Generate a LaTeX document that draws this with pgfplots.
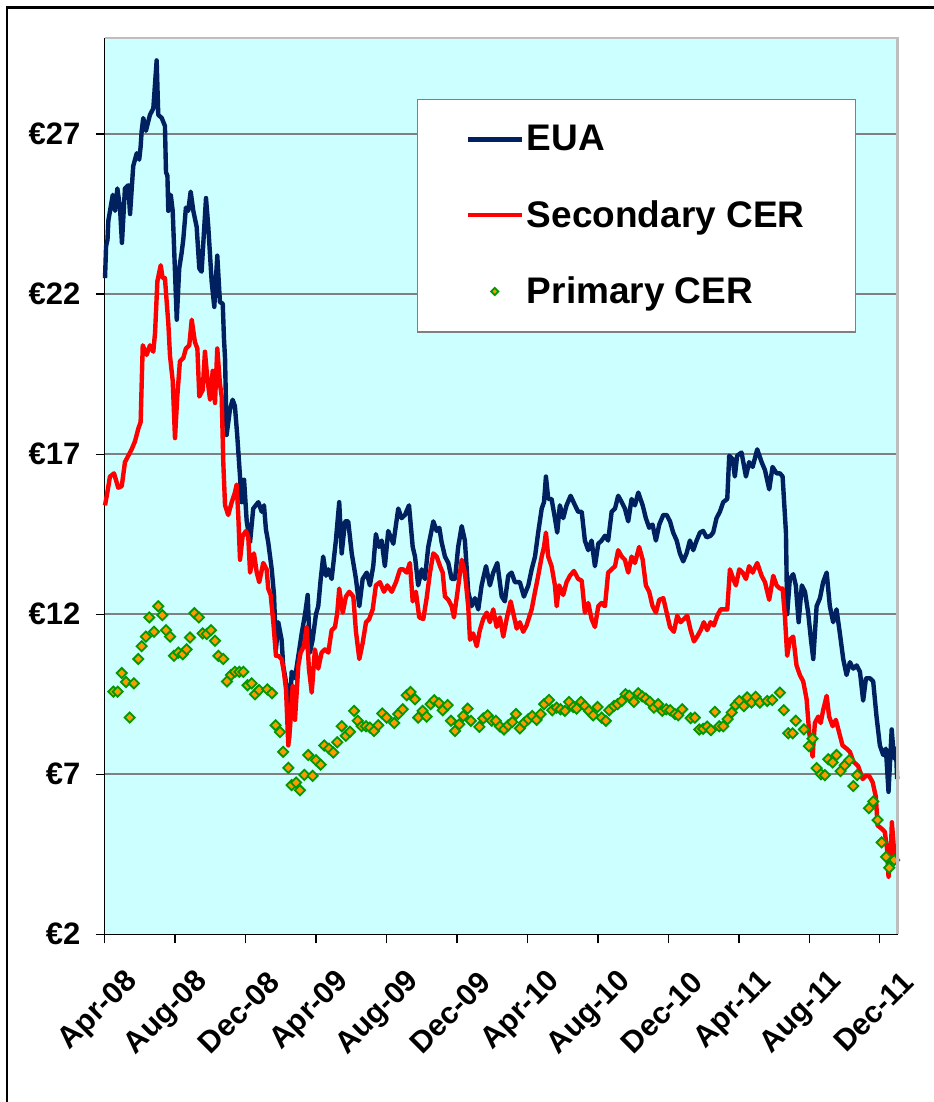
\documentclass[border=0pt]{standalone}
\usepackage{fontspec}
\setmainfont{Liberation Sans}
\usepackage{pgfplots}
\pgfplotsset{compat=1.18}
\definecolor{euablue}{RGB}{0,32,96}
\definecolor{bgcyan}{RGB}{204,255,255}
\definecolor{gridgray}{RGB}{128,128,128}
\definecolor{mkorange}{RGB}{255,153,0}
\definecolor{mkgreen}{RGB}{0,153,0}
\definecolor{bordergray}{RGB}{190,190,190}
\pgfplotsset{
  lineleg/.style={legend image code/.code={\draw[##1] (0pt,0pt) -- (27pt,0pt);}},
  markleg/.style={legend image code/.code={\draw[mark repeat=2,mark phase=2,##1,mark size=1.3pt] plot coordinates {(0pt,0pt) (13.5pt,0pt) (27pt,0pt)};}},
}
\newcommand{\xl}[1]{\fontsize{15.2}{18}\selectfont\bfseries #1}
\begin{document}
\begin{tikzpicture}
\useasboundingbox (-52.25pt,-83.85pt) rectangle (414.25pt,467.15pt);
\draw[black, line width=1.4pt] (-48.75pt,-100pt) -- (-48.75pt,463.5pt) -- (430pt,463.5pt);
\begin{axis}[
  name=ax,
  at={(0pt,0pt)}, anchor=south west,
  scale only axis, width=396.5pt, height=448.15pt,
  xmin=0, xmax=45, ymin=2, ymax=30,
  clip=false,
  axis lines*=left,
  axis line style={-, black, line width=0.8pt},
  axis background/.style={fill=bgcyan},
  xtick={0,4,...,44},
  xticklabels={\xl{Apr-08},\xl{Aug-08},\xl{Dec-08},\xl{Apr-09},\xl{Aug-09},\xl{Dec-09},\xl{Apr-10},\xl{Aug-10},\xl{Dec-10},\xl{Apr-11},\xl{Aug-11},\xl{Dec-11}},
  ytick={2,7,12,17,22,27},
  yticklabels={€2,€7,€12,€17,€22,€27},
  minor tick num=0,
  tick align=outside, major tick length=4.5pt,
  tick style={black, line width=0.6pt},
  ymajorgrids, grid style={gridgray, line width=0.8pt},
  xticklabel style={rotate=45, anchor=east, yshift=-22pt, xshift=1.5pt},
  yticklabel style={font=\fontsize{15.5}{18}\selectfont\bfseries, xshift=-4pt},
  legend style={
    at={(0.394,0.932)}, anchor=north west,
    draw=gray, fill=white, line width=0.6pt,
    font=\fontsize{18.5}{22}\selectfont\bfseries,
    inner xsep=24pt, inner ysep=11.3pt,
    row sep=20.3pt,
    nodes={inner sep=1.5pt},
  },
  legend cell align=left,
]
\addplot[euablue, line width=2.2pt, line join=round, mark=none, lineleg] table {
0.03 22.5
0.09 23.5
0.17 23.7
0.22 24.3
0.47 25.1
0.60 24.6
0.73 25.3
0.88 24.7
0.99 23.6
1.16 25.3
1.35 25.4
1.45 24.5
1.63 26.0
1.83 26.4
1.97 26.2
2.05 26.6
2.11 27.1
2.20 27.5
2.35 27.1
2.58 27.6
2.77 27.8
2.96 29.3
3.05 27.6
3.25 27.5
3.43 27.25
3.49 25.8
3.57 25.7
3.62 24.6
3.76 25.1
3.87 24.6
4.00 22.7
4.10 21.2
4.24 22.8
4.38 23.3
4.47 23.7
4.62 24.7
4.75 24.6
4.89 25.2
5.04 24.6
5.23 24.1
5.38 22.8
5.51 22.7
5.76 25.0
5.89 24.1
6.08 22.4
6.23 21.6
6.40 23.2
6.55 21.75
6.71 21.7
6.78 20.6
6.84 20.0
6.93 17.6
7.12 18.4
7.27 18.7
7.40 18.5
7.53 17.6
7.69 16.3
7.78 15.5
7.92 16.2
8.07 14.9
8.26 14.25
8.44 15.3
8.73 15.5
8.92 15.2
9.05 15.4
9.16 14.65
9.29 14.25
9.49 13.4
9.62 12.6
9.73 10.9
9.86 11.75
10.05 11.2
10.14 10.4
10.34 9.75
10.47 8.1
10.62 10.2
10.81 10.0
11.00 10.7
11.19 11.4
11.38 12.0
11.53 12.6
11.66 10.8
11.81 11.2
12.00 12.0
12.13 12.25
12.27 13.1
12.41 13.8
12.57 13.2
12.70 13.4
12.89 13.1
13.13 14.3
13.32 15.5
13.46 13.9
13.65 14.9
13.83 14.9
14.03 13.9
14.27 13.1
14.46 12.25
14.65 13.1
14.88 13.3
15.06 12.9
15.25 13.5
15.40 14.5
15.57 14.1
15.73 14.3
15.91 13.5
16.10 14.6
16.39 14.2
16.67 15.3
16.86 15.0
17.05 15.1
17.28 15.4
17.49 14.1
17.62 13.8
17.80 12.9
18.00 13.4
18.18 13.1
18.37 14.1
18.66 14.9
18.85 14.6
19.00 14.7
19.13 14.25
19.32 13.8
19.51 13.6
19.70 13.1
19.89 13.1
20.07 14.1
20.27 14.75
20.45 14.3
20.64 12.7
20.83 12.25
21.02 12.5
21.21 12.15
21.40 12.9
21.65 13.5
21.87 12.9
22.06 13.3
22.29 13.6
22.54 12.55
22.72 12.4
22.91 13.2
23.10 13.3
23.29 13.0
23.57 13.0
23.80 12.55
24.05 12.9
24.24 13.4
24.43 13.8
24.61 14.55
24.81 15.3
24.94 15.5
25.05 16.3
25.18 15.6
25.37 15.6
25.56 15.0
25.69 14.55
25.84 15.4
26.03 15.0
26.22 15.4
26.45 15.7
26.70 15.4
26.88 15.2
27.08 15.2
27.26 14.3
27.45 14.0
27.64 14.3
27.83 13.5
28.02 14.2
28.21 14.3
28.40 14.45
28.58 14.3
28.78 15.2
28.97 15.3
29.15 15.7
29.35 15.5
29.53 15.3
29.72 14.9
29.91 15.6
30.10 15.4
30.29 15.8
30.54 15.4
30.72 15.0
30.91 14.7
31.10 14.8
31.29 14.3
31.48 14.8
31.71 15.1
31.90 15.1
32.09 14.9
32.27 14.55
32.47 14.3
32.65 13.9
32.84 13.65
33.03 13.9
33.22 14.3
33.41 14.0
33.60 14.3
33.79 14.55
33.97 14.6
34.17 14.4
34.39 14.45
34.54 14.55
34.73 15.0
34.92 15.2
35.11 15.5
35.34 15.6
35.45 16.95
35.64 16.85
35.77 16.3
35.90 16.95
36.15 17.05
36.40 16.3
36.58 16.75
36.78 16.6
37.04 17.15
37.29 16.75
37.48 16.5
37.72 15.9
37.91 16.6
38.14 16.4
38.33 16.4
38.48 16.3
38.67 14.55
38.74 12.0
38.89 13.1
39.08 13.25
39.23 12.9
39.39 11.75
39.57 12.9
39.75 12.7
39.93 12.05
40.09 11.2
40.22 10.6
40.41 12.25
40.60 12.5
40.78 13.0
40.98 13.3
41.16 12.25
41.35 11.75
41.54 12.15
41.73 11.4
41.92 10.6
42.11 10.1
42.30 10.5
42.49 10.3
42.68 10.4
42.87 10.2
43.05 9.3
43.21 10.0
43.43 10.0
43.62 9.9
43.81 8.8
44.00 7.9
44.19 7.6
44.34 7.8
44.49 6.45
44.67 8.4
44.80 7.5
44.91 7.8
44.98 6.85
};
\addlegendentry{EUA}
\addplot[red, line width=2.2pt, line join=round, mark=none, lineleg] table {
0.03 15.4
0.16 15.8
0.31 16.3
0.54 16.4
0.78 15.95
0.98 16.0
1.16 16.75
1.35 16.95
1.54 17.15
1.73 17.4
1.92 17.8
2.05 18.0
2.17 20.4
2.39 20.1
2.58 20.4
2.77 20.2
2.87 20.8
3.00 22.4
3.19 22.9
3.30 22.5
3.43 22.5
3.53 21.75
3.62 21.1
3.72 20.05
3.87 19.3
4.00 17.5
4.13 18.8
4.28 19.9
4.47 20.0
4.62 20.3
4.81 20.4
4.95 21.2
5.13 20.5
5.27 20.3
5.38 18.8
5.57 19.0
5.70 20.2
5.83 19.4
5.99 18.7
6.14 19.6
6.27 18.6
6.40 20.3
6.55 19.2
6.65 18.8
6.74 16.75
6.84 15.4
7.02 15.1
7.22 15.5
7.40 15.8
7.50 16.05
7.59 15.1
7.69 13.7
7.84 14.45
8.03 14.6
8.16 14.4
8.26 13.3
8.48 13.9
8.64 13.3
8.78 13.0
9.01 13.6
9.20 13.4
9.29 12.8
9.43 12.6
9.58 11.75
9.73 10.7
9.86 10.7
10.05 10.6
10.18 10.2
10.30 9.65
10.43 7.9
10.52 8.4
10.68 9.75
10.81 8.7
11.00 10.4
11.13 10.8
11.32 11.0
11.47 11.6
11.60 10.3
11.76 9.55
11.94 10.9
12.13 10.3
12.32 10.8
12.51 10.9
12.70 10.8
12.89 11.5
13.08 11.6
13.21 12.05
13.32 12.8
13.52 12.05
13.70 12.55
13.89 12.7
14.12 12.55
14.27 11.45
14.46 10.6
14.65 11.1
14.84 11.75
15.02 11.85
15.22 12.15
15.40 12.9
15.63 13.0
15.86 12.7
16.05 12.9
16.30 12.7
16.54 13.0
16.77 13.4
16.95 13.4
17.15 13.3
17.33 13.6
17.49 12.4
17.67 12.7
17.86 11.9
18.09 11.85
18.28 12.5
18.47 13.3
18.66 13.9
18.85 13.8
19.04 13.5
19.19 13.3
19.32 12.55
19.51 12.45
19.70 12.25
19.83 11.9
20.02 12.65
20.27 13.7
20.45 13.3
20.64 12.25
20.74 11.2
20.92 11.4
21.12 11.0
21.30 11.5
21.49 11.85
21.69 12.05
21.87 11.75
22.06 12.15
22.25 11.6
22.44 11.9
22.63 11.3
22.82 11.85
23.05 12.4
23.23 11.95
23.39 11.55
23.57 11.75
23.76 11.45
23.95 11.65
24.24 12.15
24.43 12.7
24.61 13.2
24.81 13.8
24.94 14.1
25.05 14.55
25.18 13.8
25.37 13.5
25.56 12.9
25.66 12.25
25.80 12.9
26.03 12.6
26.22 13.0
26.41 13.2
26.64 13.35
26.88 13.1
27.08 13.05
27.26 12.05
27.45 12.35
27.64 11.85
27.83 11.6
28.02 12.25
28.21 12.35
28.40 12.25
28.58 13.3
28.78 13.4
28.97 13.5
29.15 14.0
29.35 13.8
29.53 13.7
29.72 13.3
29.91 13.8
30.10 13.6
30.34 14.1
30.54 13.7
30.72 12.9
30.91 12.7
31.10 12.25
31.29 12.05
31.48 12.45
31.71 12.5
31.90 12.05
32.09 11.6
32.31 11.45
32.50 11.95
32.69 11.75
32.88 11.85
33.07 11.95
33.26 11.5
33.45 11.15
33.63 11.3
33.83 11.5
34.01 11.75
34.20 11.5
34.39 11.75
34.58 11.65
34.77 11.95
34.96 12.15
35.21 12.15
35.34 12.15
35.49 13.4
35.68 13.1
35.83 12.9
36.02 13.4
36.21 13.3
36.40 13.1
36.58 13.5
36.78 13.3
37.04 13.6
37.29 13.2
37.48 13.0
37.72 12.45
37.95 13.2
38.14 12.9
38.33 12.8
38.48 12.8
38.61 11.95
38.74 10.7
38.89 11.2
39.08 11.3
39.27 10.4
39.46 10.1
39.65 9.9
39.84 9.35
39.99 8.3
40.18 7.55
40.31 8.6
40.50 8.8
40.64 8.6
40.78 9.0
40.98 9.45
41.12 8.8
41.32 8.5
41.50 8.7
41.69 8.3
41.88 7.9
42.11 7.8
42.30 7.7
42.49 7.4
42.77 7.25
43.02 6.85
43.21 6.95
43.39 6.95
43.59 6.75
43.77 6.3
43.87 5.4
44.10 5.3
44.28 5.2
44.41 4.65
44.49 3.8
44.61 4.4
44.68 5.5
44.80 4.65
44.91 4.25
44.98 4.4
};
\addlegendentry{Secondary CER}
\addplot[only marks, mark=square*, mark size=1.8pt,
  mark options={rotate=45, fill=mkorange, draw=mkgreen, line width=0.9pt}, markleg] table {
0.50 9.58
0.75 9.58
0.98 10.16
1.22 9.88
1.43 8.77
1.67 9.84
1.92 10.6
2.11 11.0
2.35 11.3
2.54 11.9
2.81 11.45
3.05 12.25
3.28 11.97
3.49 11.5
3.72 11.3
3.94 10.7
4.19 10.8
4.44 10.75
4.66 10.9
4.85 11.27
5.10 12.03
5.36 11.9
5.57 11.4
5.80 11.38
6.04 11.5
6.27 11.17
6.46 10.7
6.74 10.6
6.95 9.9
7.18 10.1
7.40 10.2
7.65 10.2
7.88 10.2
8.12 9.78
8.35 9.84
8.54 9.5
8.77 9.63
9.24 9.65
9.50 9.53
9.71 8.53
9.96 8.32
10.14 7.7
10.43 7.2
10.62 6.66
10.87 6.74
11.09 6.5
11.34 6.98
11.56 7.6
11.81 6.95
12.00 7.44
12.27 7.3
12.47 7.9
12.74 7.8
12.98 7.68
13.21 8.0
13.46 8.5
13.69 8.2
13.93 8.33
14.16 8.98
14.37 8.67
14.59 8.5
14.84 8.5
15.06 8.46
15.29 8.35
15.53 8.53
15.76 8.9
16.01 8.77
16.44 8.6
16.67 8.88
16.92 9.03
17.15 9.47
17.37 9.57
17.62 9.34
17.80 8.77
18.05 8.98
18.28 8.8
18.51 9.19
18.71 9.31
18.98 9.22
19.19 9.0
19.47 9.16
19.66 8.67
19.89 8.35
20.13 8.56
20.36 8.82
20.61 9.05
20.79 8.67
21.27 8.48
21.49 8.74
21.74 8.84
21.97 8.67
22.21 8.67
22.44 8.49
22.67 8.4
22.91 8.53
23.14 8.63
23.35 8.88
23.57 8.43
23.82 8.61
24.05 8.72
24.27 8.82
24.52 8.7
24.75 8.88
24.95 9.19
25.22 9.32
25.41 9.0
25.66 9.08
25.88 9.03
26.13 8.98
26.36 9.26
26.60 9.1
26.79 9.05
27.04 9.26
27.26 9.13
27.49 8.98
27.73 8.84
27.98 9.1
28.21 8.77
28.45 8.67
28.64 9.0
28.91 9.13
29.12 9.19
29.35 9.29
29.57 9.5
29.78 9.45
30.04 9.26
30.29 9.53
30.51 9.43
30.72 9.36
30.95 9.26
31.18 9.08
31.42 9.19
31.65 8.98
31.88 9.03
32.10 9.0
32.37 8.88
32.56 8.84
32.78 9.03
33.26 8.75
33.50 8.77
33.75 8.4
33.97 8.42
34.20 8.49
34.41 8.38
34.64 8.95
34.88 8.5
35.11 8.5
35.36 8.72
35.59 8.93
35.81 9.16
36.02 9.29
36.28 9.13
36.47 9.4
36.72 9.24
36.95 9.42
37.19 9.24
37.61 9.29
37.89 9.32
38.33 9.55
38.55 9.0
38.80 8.28
39.05 8.28
39.23 8.67
39.69 8.4
39.97 7.88
40.18 8.11
40.41 7.19
40.66 7.0
40.88 6.97
41.07 7.47
41.32 7.37
41.54 7.6
41.77 7.1
42.01 7.28
42.26 7.44
42.49 6.63
42.71 6.97
43.38 5.94
43.62 6.15
43.87 5.57
44.10 4.87
44.35 4.42
44.53 4.08
44.81 4.32
};
\addlegendentry{Primary CER}
\end{axis}
\draw[bordergray, line width=1.2pt] (ax.north west) -- (ax.north east) -- (ax.south east);
\end{tikzpicture}
\end{document}
